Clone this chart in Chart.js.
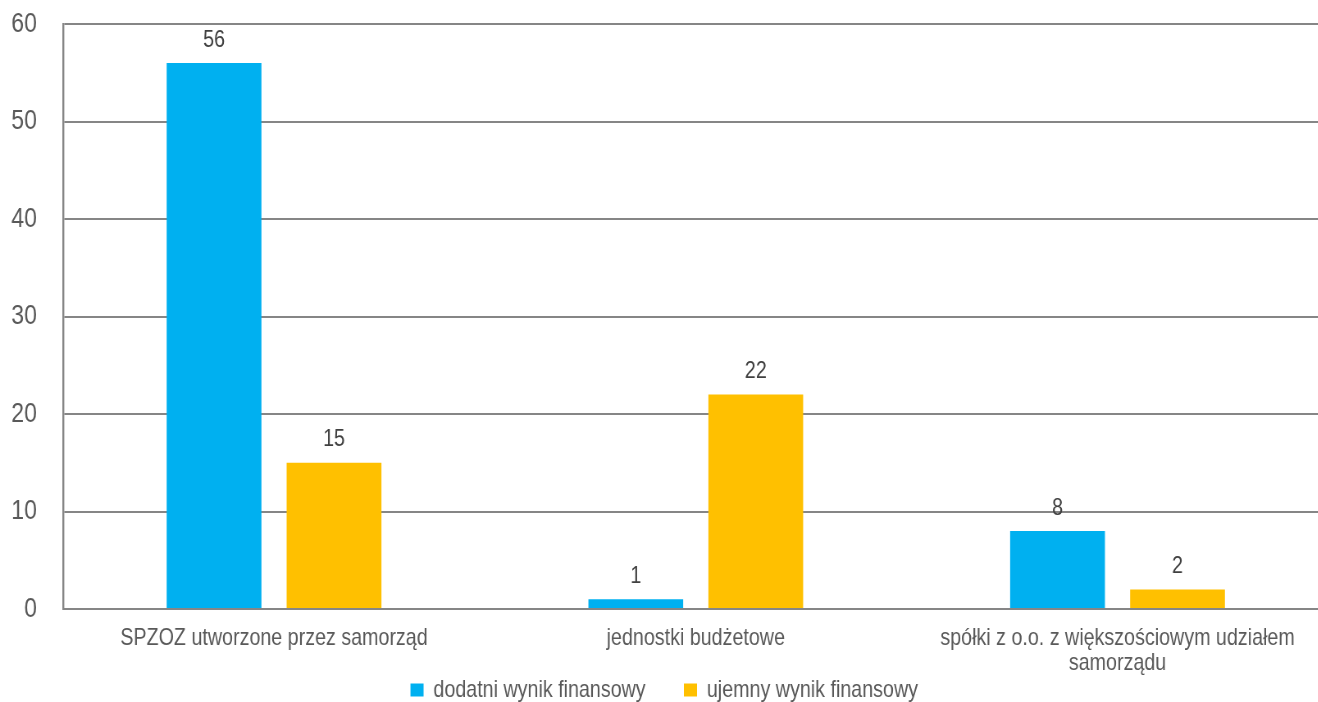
<!DOCTYPE html>
<html>
<head>
<meta charset="utf-8">
<script src="https://cdn.jsdelivr.net/npm/chart.js@4/dist/chart.umd.min.js"></script>
<style>
    html, body { margin: 0; padding: 0; background: #fff; overflow: hidden; }
    /* tekst w oryginale jest zwężony (Arial Narrow) - ściskamy całe płótno w poziomie */
    #wrap { width: 1620px; height: 702px; transform: scaleX(0.82); transform-origin: 0 0; }
</style>
</head>
<body>
<div id="wrap"><canvas id="wykres"></canvas></div>
<script>
// Dane
const kategorie = [
    "SPZOZ utworzone przez samorząd",
    "jednostki budżetowe",
    ["spółki z o.o. z większościowym udziałem", "samorządu"]
];
const dodatni = [56, 1, 8];
const ujemny = [15, 22, 2];
const nazwySerii = ["dodatni wynik finansowy", "ujemny wynik finansowy"];

const FONT = "'Liberation Sans', Arial, sans-serif";

// etykiety wartości nad słupkami
const etykietyWartosci = {
    id: "etykietyWartosci",
    afterDatasetsDraw(chart) {
        const ctx = chart.ctx;
        ctx.save();
        ctx.font = "24px " + FONT;
        ctx.fillStyle = "#404040";
        ctx.textAlign = "center";
        ctx.textBaseline = "middle";
        chart.data.datasets.forEach((ds, i) => {
            chart.getDatasetMeta(i).data.forEach((bar, j) => {
                ctx.fillText(ds.data[j], bar.x, bar.y - 23);
            });
        });
        ctx.restore();
    }
};

new Chart(document.getElementById("wykres"), {
    type: "bar",
    data: {
        labels: kategorie,
        datasets: [
            { label: nazwySerii[0], data: dodatni, backgroundColor: "#00B0F0" },
            { label: nazwySerii[1], data: ujemny, backgroundColor: "#FFC000" }
        ]
    },
    options: {
        responsive: true,
        maintainAspectRatio: false,
        animation: false,
        layout: { padding: { top: 24, left: 0, right: 0, bottom: -10 } },
        datasets: {
            bar: { categoryPercentage: 0.569, barPercentage: 0.79 }
        },
        plugins: {
            legend: {
                position: "bottom",
                labels: {
                    boxWidth: 16,
                    boxHeight: 13,
                    padding: 0,
                    color: "#595959",
                    font: { family: FONT, size: 24 },
                    // odstęp między pozycjami legendy bez powiększania jej wysokości
                    generateLabels(chart) {
                        const items = Chart.defaults.plugins.legend.labels.generateLabels(chart);
                        items[0].text += "       ";
                        return items;
                    }
                }
            },
            tooltip: { enabled: false }
        },
        scales: {
            x: {
                afterFit(scale) {
                    scale.height -= 7;
                    scale.paddingLeft = 0;
                    scale.paddingRight = 0;
                },
                grid: { display: false },
                border: { color: "#868686", width: 2 },
                ticks: {
                    autoSkip: false,
                    color: "#595959",
                    maxRotation: 0,
                    padding: 9,
                    font: { family: FONT, size: 24, lineHeight: 1.04 }
                }
            },
            y: {
                min: 0,
                max: 60,
                afterFit(scale) {
                    scale.width = 77;
                    scale.paddingTop = 0;
                    scale.paddingBottom = 0;
                },
                ticks: {
                    stepSize: 10,
                    color: "#595959",
                    padding: 32,
                    font: { family: FONT, size: 28 }
                },
                grid: { color: "#868686", lineWidth: 2, drawTicks: false },
                border: { color: "#868686", width: 2.4 }
            }
        }
    },
    plugins: [etykietyWartosci]
});
</script>
</body>
</html>
